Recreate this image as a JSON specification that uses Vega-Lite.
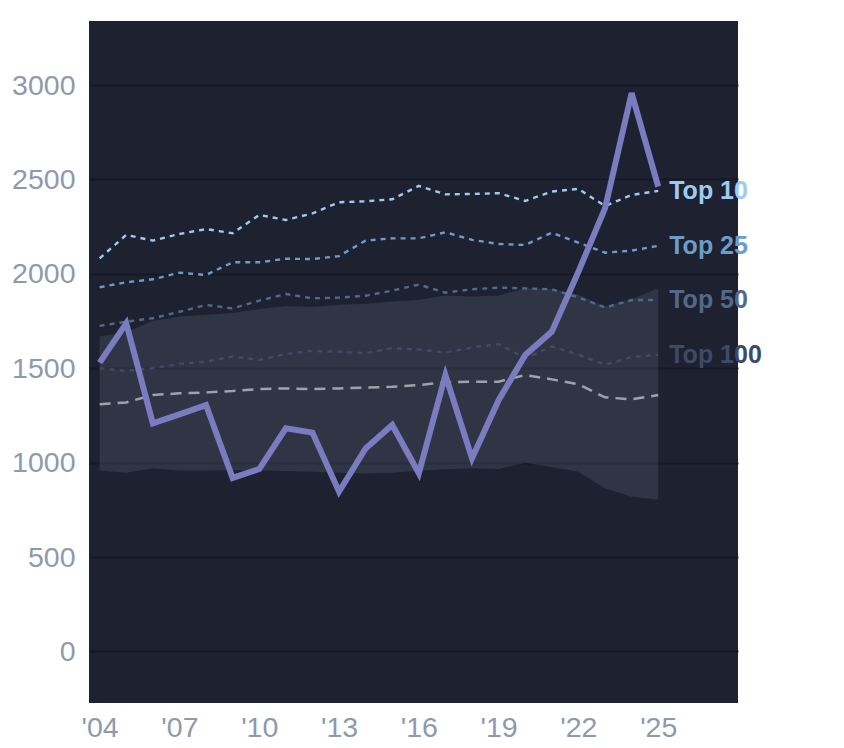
{
  "$schema": "https://vega.github.io/schema/vega-lite/v6.json",
  "width": 649,
  "height": 682,
  "autosize": {"type": "none"},
  "padding": {"left": 89, "top": 21, "right": 106, "bottom": 45},
  "background": "#ffffff",
  "config": {
    "view": {"fill": "#1d2130", "stroke": null},
    "font": "Liberation Sans",
    "axis": {
      "labelFont": "Liberation Sans",
      "labelFontSize": 28.5,
      "labelColor": "#8e9aab",
      "domain": false,
      "ticks": false,
      "tickSize": 0,
      "title": null
    }
  },
  "datasets": {
    "lines": [
      {"year": 2004, "series": "Top 10", "value": 2082},
      {"year": 2005, "series": "Top 10", "value": 2206},
      {"year": 2006, "series": "Top 10", "value": 2176},
      {"year": 2007, "series": "Top 10", "value": 2211},
      {"year": 2008, "series": "Top 10", "value": 2237},
      {"year": 2009, "series": "Top 10", "value": 2215},
      {"year": 2010, "series": "Top 10", "value": 2312},
      {"year": 2011, "series": "Top 10", "value": 2285},
      {"year": 2012, "series": "Top 10", "value": 2320},
      {"year": 2013, "series": "Top 10", "value": 2379},
      {"year": 2014, "series": "Top 10", "value": 2384},
      {"year": 2015, "series": "Top 10", "value": 2395},
      {"year": 2016, "series": "Top 10", "value": 2466},
      {"year": 2017, "series": "Top 10", "value": 2421},
      {"year": 2018, "series": "Top 10", "value": 2423},
      {"year": 2019, "series": "Top 10", "value": 2427},
      {"year": 2020, "series": "Top 10", "value": 2386},
      {"year": 2021, "series": "Top 10", "value": 2436},
      {"year": 2022, "series": "Top 10", "value": 2450},
      {"year": 2023, "series": "Top 10", "value": 2359},
      {"year": 2024, "series": "Top 10", "value": 2418},
      {"year": 2025, "series": "Top 10", "value": 2439},
      {"year": 2004, "series": "Top 25", "value": 1929},
      {"year": 2005, "series": "Top 25", "value": 1955},
      {"year": 2006, "series": "Top 25", "value": 1971},
      {"year": 2007, "series": "Top 25", "value": 2006},
      {"year": 2008, "series": "Top 25", "value": 1994},
      {"year": 2009, "series": "Top 25", "value": 2061},
      {"year": 2010, "series": "Top 25", "value": 2061},
      {"year": 2011, "series": "Top 25", "value": 2080},
      {"year": 2012, "series": "Top 25", "value": 2078},
      {"year": 2013, "series": "Top 25", "value": 2094},
      {"year": 2014, "series": "Top 25", "value": 2176},
      {"year": 2015, "series": "Top 25", "value": 2188},
      {"year": 2016, "series": "Top 25", "value": 2188},
      {"year": 2017, "series": "Top 25", "value": 2220},
      {"year": 2018, "series": "Top 25", "value": 2180},
      {"year": 2019, "series": "Top 25", "value": 2158},
      {"year": 2020, "series": "Top 25", "value": 2153},
      {"year": 2021, "series": "Top 25", "value": 2218},
      {"year": 2022, "series": "Top 25", "value": 2165},
      {"year": 2023, "series": "Top 25", "value": 2112},
      {"year": 2024, "series": "Top 25", "value": 2123},
      {"year": 2025, "series": "Top 25", "value": 2148},
      {"year": 2004, "series": "Top 50", "value": 1724},
      {"year": 2005, "series": "Top 50", "value": 1747},
      {"year": 2006, "series": "Top 50", "value": 1765},
      {"year": 2007, "series": "Top 50", "value": 1799},
      {"year": 2008, "series": "Top 50", "value": 1835},
      {"year": 2009, "series": "Top 50", "value": 1817},
      {"year": 2010, "series": "Top 50", "value": 1858},
      {"year": 2011, "series": "Top 50", "value": 1893},
      {"year": 2012, "series": "Top 50", "value": 1870},
      {"year": 2013, "series": "Top 50", "value": 1874},
      {"year": 2014, "series": "Top 50", "value": 1884},
      {"year": 2015, "series": "Top 50", "value": 1911},
      {"year": 2016, "series": "Top 50", "value": 1943},
      {"year": 2017, "series": "Top 50", "value": 1900},
      {"year": 2018, "series": "Top 50", "value": 1918},
      {"year": 2019, "series": "Top 50", "value": 1927},
      {"year": 2020, "series": "Top 50", "value": 1923},
      {"year": 2021, "series": "Top 50", "value": 1918},
      {"year": 2022, "series": "Top 50", "value": 1875},
      {"year": 2023, "series": "Top 50", "value": 1822},
      {"year": 2024, "series": "Top 50", "value": 1861},
      {"year": 2025, "series": "Top 50", "value": 1861},
      {"year": 2004, "series": "Top 100", "value": 1500},
      {"year": 2005, "series": "Top 100", "value": 1486},
      {"year": 2006, "series": "Top 100", "value": 1500},
      {"year": 2007, "series": "Top 100", "value": 1523},
      {"year": 2008, "series": "Top 100", "value": 1535},
      {"year": 2009, "series": "Top 100", "value": 1562},
      {"year": 2010, "series": "Top 100", "value": 1544},
      {"year": 2011, "series": "Top 100", "value": 1576},
      {"year": 2012, "series": "Top 100", "value": 1592},
      {"year": 2013, "series": "Top 100", "value": 1587},
      {"year": 2014, "series": "Top 100", "value": 1580},
      {"year": 2015, "series": "Top 100", "value": 1606},
      {"year": 2016, "series": "Top 100", "value": 1599},
      {"year": 2017, "series": "Top 100", "value": 1583},
      {"year": 2018, "series": "Top 100", "value": 1610},
      {"year": 2019, "series": "Top 100", "value": 1628},
      {"year": 2020, "series": "Top 100", "value": 1553},
      {"year": 2021, "series": "Top 100", "value": 1615},
      {"year": 2022, "series": "Top 100", "value": 1571},
      {"year": 2023, "series": "Top 100", "value": 1518},
      {"year": 2024, "series": "Top 100", "value": 1559},
      {"year": 2025, "series": "Top 100", "value": 1571}
    ],
    "median": [
      {"year": 2004, "value": 1309},
      {"year": 2005, "value": 1319},
      {"year": 2006, "value": 1358},
      {"year": 2007, "value": 1367},
      {"year": 2008, "value": 1372},
      {"year": 2009, "value": 1379},
      {"year": 2010, "value": 1390},
      {"year": 2011, "value": 1393},
      {"year": 2012, "value": 1390},
      {"year": 2013, "value": 1393},
      {"year": 2014, "value": 1397},
      {"year": 2015, "value": 1402},
      {"year": 2016, "value": 1411},
      {"year": 2017, "value": 1425},
      {"year": 2018, "value": 1429},
      {"year": 2019, "value": 1429},
      {"year": 2020, "value": 1464},
      {"year": 2021, "value": 1441},
      {"year": 2022, "value": 1415},
      {"year": 2023, "value": 1346},
      {"year": 2024, "value": 1335},
      {"year": 2025, "value": 1358}
    ],
    "band": [
      {"year": 2004, "lo": 958, "hi": 1668},
      {"year": 2005, "lo": 947, "hi": 1690},
      {"year": 2006, "lo": 970, "hi": 1752},
      {"year": 2007, "lo": 958, "hi": 1774},
      {"year": 2008, "lo": 958, "hi": 1783},
      {"year": 2009, "lo": 961, "hi": 1792},
      {"year": 2010, "lo": 958, "hi": 1813},
      {"year": 2011, "lo": 956, "hi": 1830},
      {"year": 2012, "lo": 952, "hi": 1824},
      {"year": 2013, "lo": 947, "hi": 1836},
      {"year": 2014, "lo": 943, "hi": 1841},
      {"year": 2015, "lo": 947, "hi": 1853},
      {"year": 2016, "lo": 957, "hi": 1861},
      {"year": 2017, "lo": 965, "hi": 1885},
      {"year": 2018, "lo": 970, "hi": 1880},
      {"year": 2019, "lo": 966, "hi": 1885},
      {"year": 2020, "lo": 1000, "hi": 1924},
      {"year": 2021, "lo": 975, "hi": 1919},
      {"year": 2022, "lo": 952, "hi": 1889},
      {"year": 2023, "lo": 864, "hi": 1827},
      {"year": 2024, "lo": 819, "hi": 1866},
      {"year": 2025, "lo": 805, "hi": 1924}
    ],
    "main": [
      {"year": 2004, "value": 1530},
      {"year": 2005, "value": 1738},
      {"year": 2006, "value": 1208},
      {"year": 2007, "value": 1256},
      {"year": 2008, "value": 1305},
      {"year": 2009, "value": 919},
      {"year": 2010, "value": 966},
      {"year": 2011, "value": 1182},
      {"year": 2012, "value": 1159},
      {"year": 2013, "value": 846},
      {"year": 2014, "value": 1075},
      {"year": 2015, "value": 1199},
      {"year": 2016, "value": 944},
      {"year": 2017, "value": 1464},
      {"year": 2018, "value": 1023},
      {"year": 2019, "value": 1331},
      {"year": 2020, "value": 1570},
      {"year": 2021, "value": 1694},
      {"year": 2022, "value": 2011},
      {"year": 2023, "value": 2347},
      {"year": 2024, "value": 2957},
      {"year": 2025, "value": 2462}
    ]
  },
  "encoding": {
    "x": {
      "field": "year",
      "type": "quantitative",
      "scale": {"domain": [2003.6, 2028], "nice": false, "zero": false},
      "axis": {
        "values": [2004, 2007, 2010, 2013, 2016, 2019, 2022, 2025],
        "labelExpr": "'\\'' + slice(toString(datum.value), 2)",
        "grid": false,
        "labelPadding": 10,
        "labelFlush": false
      }
    }
  },
  "layer": [
    {
      "data": {"name": "band"},
      "mark": {"type": "area", "fill": "#a0a6c0", "fillOpacity": 0.15},
      "encoding": {
        "y": {
          "field": "lo",
          "type": "quantitative",
          "scale": {"domain": [-273, 3339], "nice": false, "zero": false},
          "axis": {
            "values": [0, 500, 1000, 1500, 2000, 2500, 3000],
            "format": "d",
            "grid": true,
            "gridColor": "#151823",
            "gridWidth": 2,
            "gridOpacity": 0.8,
            "labelPadding": 14
          }
        },
        "y2": {"field": "hi"}
      }
    },
    {
      "data": {"name": "median"},
      "mark": {"type": "line", "stroke": "#9ea2ab", "strokeWidth": 2.5, "strokeDash": [11, 7]},
      "encoding": {
        "y": {"field": "value", "type": "quantitative"}
      }
    },
    {
      "data": {"name": "lines"},
      "mark": {"type": "line", "strokeWidth": 2.4, "strokeDash": [5, 5]},
      "encoding": {
        "y": {"field": "value", "type": "quantitative"},
        "color": {
          "field": "series",
          "type": "nominal",
          "scale": {
            "domain": ["Top 10", "Top 25", "Top 50", "Top 100"],
            "range": ["#9ecbf0", "#6b9dcb", "#52698c", "#3e4a66"]
          },
          "legend": null
        }
      }
    },
    {
      "data": {"name": "main"},
      "mark": {"type": "line", "stroke": "#7b7bbf", "strokeWidth": 6, "strokeJoin": "miter"},
      "encoding": {
        "y": {"field": "value", "type": "quantitative"}
      }
    },
    {
      "data": {"name": "lines"},
      "transform": [{"filter": "datum.year === 2025"}],
      "mark": {"type": "text", "align": "left", "baseline": "middle", "dx": 11, "fontSize": 25, "fontWeight": "bold", "font": "Liberation Sans"},
      "encoding": {
        "y": {"field": "value", "type": "quantitative"},
        "text": {"field": "series"},
        "color": {
          "field": "series",
          "type": "nominal",
          "scale": {
            "domain": ["Top 10", "Top 25", "Top 50", "Top 100"],
            "range": ["#a4d3fa", "#6b9fcf", "#53698b", "#3e4a66"]
          },
          "legend": null
        }
      }
    }
  ]
}
